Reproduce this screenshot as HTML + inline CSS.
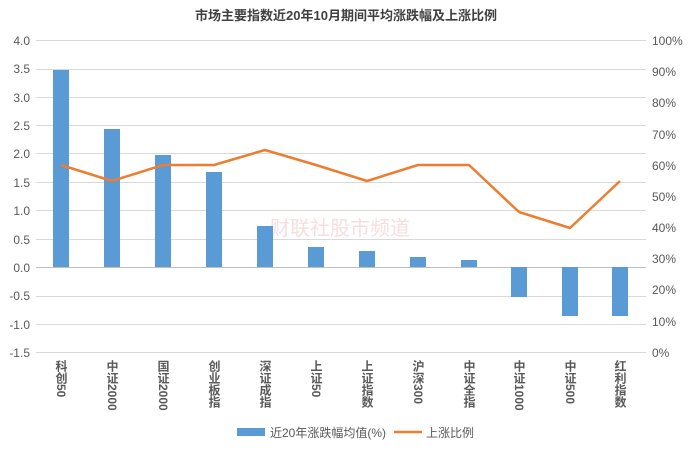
<!DOCTYPE html>
<html><head><meta charset="utf-8"><style>
body{margin:0;background:#fff;width:692px;height:450px;overflow:hidden;font-family:"Liberation Sans","Noto Sans CJK SC",sans-serif;}
.lab{position:absolute;top:360px;writing-mode:vertical-rl;text-orientation:mixed;font-size:12px;font-weight:bold;color:#595959;line-height:14px;width:14px;}
</style></head><body>
<svg width="692" height="450" style="position:absolute;left:0;top:0" font-family="Liberation Sans, Noto Sans CJK SC, sans-serif">
<text x="346" y="20" text-anchor="middle" font-size="13" font-weight="bold" fill="#404040">市场主要指数近20年10月期间平均涨跌幅及上涨比例</text>
<g stroke="#d9d9d9" stroke-width="1">
<line x1="36" x2="646" y1="40.5" y2="40.5"/><line x1="36" x2="646" y1="97.5" y2="97.5"/>
<line x1="36" x2="646" y1="153.5" y2="153.5"/><line x1="36" x2="646" y1="210.5" y2="210.5"/>
<line x1="36" x2="646" y1="324.5" y2="324.5"/><line x1="36" x2="646" y1="352.5" y2="352.5"/>
<line x1="36" x2="646" y1="69.5" y2="69.5"/><line x1="36" x2="646" y1="125.5" y2="125.5"/>
<line x1="36" x2="646" y1="182.5" y2="182.5"/><line x1="36" x2="646" y1="239.5" y2="239.5"/>
<line x1="36" x2="646" y1="296.5" y2="296.5"/>
<line x1="36" x2="646" y1="267.5" y2="267.5" stroke="#bfbfbf"/>
</g>
<g font-size="12" fill="#595959" text-anchor="end">
<text x="30" y="45">4.0</text><text x="30" y="73">3.5</text><text x="30" y="102">3.0</text><text x="30" y="130">2.5</text><text x="30" y="158">2.0</text><text x="30" y="187">1.5</text><text x="30" y="215">1.0</text><text x="30" y="244">0.5</text><text x="30" y="272">0.0</text><text x="30" y="300">-0.5</text><text x="30" y="329">-1.0</text><text x="30" y="357">-1.5</text>
</g>
<g font-size="12" fill="#595959" text-anchor="start">
<text x="652" y="45">100%</text><text x="652" y="76">90%</text><text x="652" y="107">80%</text><text x="652" y="139">70%</text><text x="652" y="170">60%</text><text x="652" y="201">50%</text><text x="652" y="232">40%</text><text x="652" y="263">30%</text><text x="652" y="294">20%</text><text x="652" y="326">10%</text><text x="652" y="357">0%</text>
</g>
<text x="340" y="235" text-anchor="middle" font-size="20" fill="#f3c9c9" opacity="0.6">财联社股市频道</text>
<g fill="#5b9bd5">
<rect x="53" y="70" width="16" height="197"/>
<rect x="104" y="129" width="16" height="138"/>
<rect x="155" y="155" width="16" height="112"/>
<rect x="206" y="172" width="16" height="95"/>
<rect x="257" y="226" width="16" height="41"/>
<rect x="308" y="247" width="16" height="20"/>
<rect x="359" y="251" width="16" height="16"/>
<rect x="410" y="257" width="16" height="10"/>
<rect x="461" y="260" width="16" height="7"/>
<rect x="511" y="267" width="16" height="30"/>
<rect x="562" y="267" width="16" height="49"/>
<rect x="612" y="267" width="16" height="49"/>
</g>
<polyline fill="none" stroke="#ed7d31" stroke-width="2.5" stroke-linejoin="round" points="61,165 112,181 163,165 214,165 265,150 316,165 367,181 418,165 469,165 519,212 570,228 620,181"/>
<rect x="237" y="428" width="28" height="8" fill="#5b9bd5"/>
<text x="270" y="437" font-size="12" fill="#595959">近20年涨跌幅均值(%)</text>
<line x1="394" x2="422" y1="432" y2="432" stroke="#ed7d31" stroke-width="2.5"/>
<text x="426" y="437" font-size="12" fill="#595959">上涨比例</text>
</svg>
<div class="lab" style="left:54px">科创50</div>
<div class="lab" style="left:105px">中证2000</div>
<div class="lab" style="left:156px">国证2000</div>
<div class="lab" style="left:207px">创业板指</div>
<div class="lab" style="left:258px">深证成指</div>
<div class="lab" style="left:309px">上证50</div>
<div class="lab" style="left:360px">上证指数</div>
<div class="lab" style="left:411px">沪深300</div>
<div class="lab" style="left:462px">中证全指</div>
<div class="lab" style="left:512px">中证1000</div>
<div class="lab" style="left:563px">中证500</div>
<div class="lab" style="left:613px">红利指数</div>
</body></html>
